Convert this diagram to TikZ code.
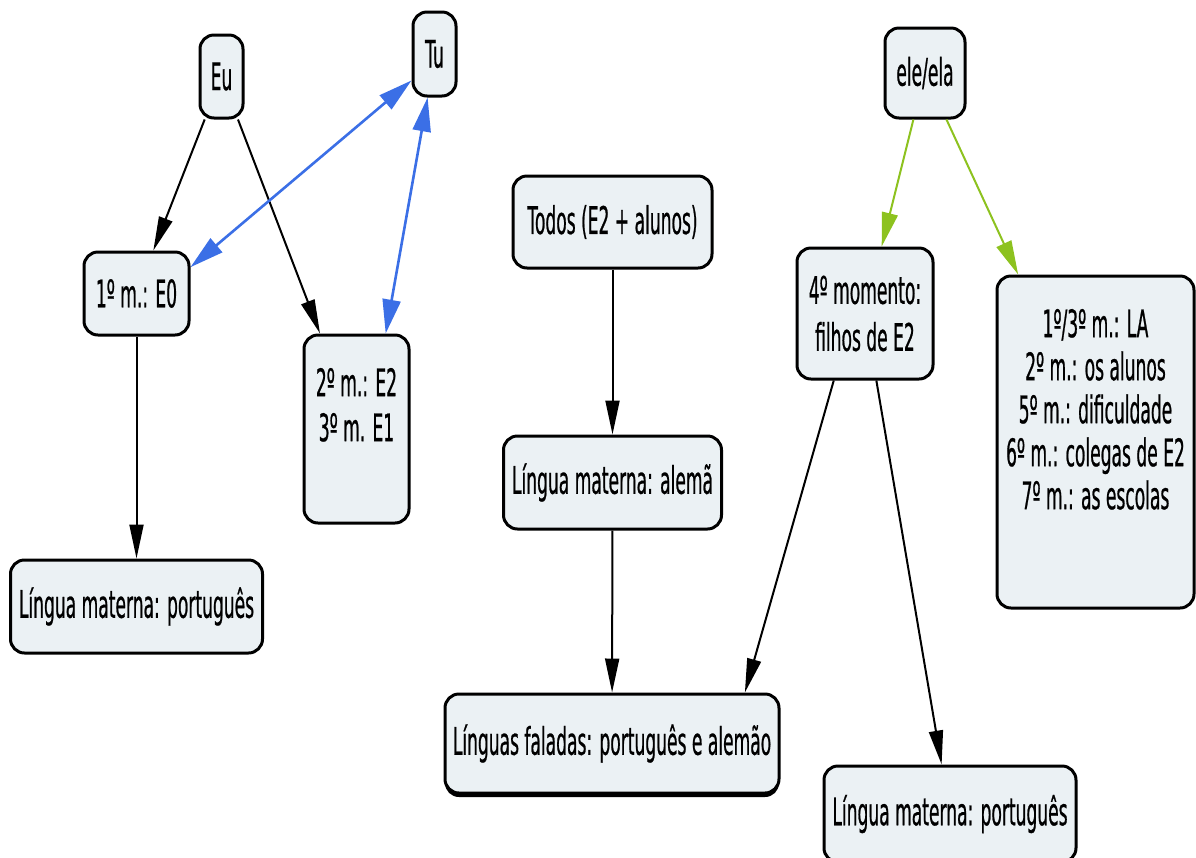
\documentclass[tikz,border=0pt]{standalone}
\usepackage{fontspec}
\setmainfont{DejaVu Sans}[FakeStretch=0.45,FakeBold=0.6]
\usetikzlibrary{arrows.meta,shadows}
\definecolor{boxfill}{HTML}{EBF1F4}
\definecolor{linkblue}{HTML}{3B6FE6}
\definecolor{linkgreen}{HTML}{8DC21F}
% text pushed to the top of a tall box
\newcommand{\toptext}[3]{\parbox[c][#1][t]{#2}{\centering\vspace*{16.5pt}#3\par}}

\begin{document}
\begin{tikzpicture}[x=0.5pt,y=-0.5pt,
	concept/.style={draw,line width=1.5pt,rounded corners=7pt,fill=boxfill,inner sep=0pt,
		font=\fontsize{19}{21.5}\selectfont,align=center},
	link/.style={line width=1pt,-{Triangle[length=17pt,width=7pt]}},
	bluelink/.style={color=linkblue,line width=1.3pt,{Triangle[length=17pt,width=9pt]}-{Triangle[length=17pt,width=9pt]}},
	greenlink/.style={color=linkgreen,line width=1pt,-{Triangle[length=17pt,width=8pt]}}]
		\useasboundingbox (0,0) rectangle (1196,858);
		\clip (0,0) rectangle (1196,858);

		\node[concept,minimum width=21.5pt,minimum height=41.5pt] (eu) at (221.5,76.5) {Eu};
		\node[concept,minimum width=21.5pt,minimum height=42pt] (tu) at (434.5,54) {Tu};
		\node[concept,minimum width=52.5pt,minimum height=41.5pt] (p1) at (136.5,293.5) {1º m.: E0};
		\node[concept,minimum width=52.5pt,minimum height=94pt] (p2) at (356.5,429)
			{\toptext{94pt}{52pt}{2º m.: E2\\[1pt]3º m. E1}};
		\node[concept,minimum width=126pt,minimum height=46.5pt] (lmp1) at (136.5,606.5) {Língua materna: português};
		
		\node[concept,minimum width=99.5pt,minimum height=46pt] (todos) at (612.5,222) {Todos (E2 + alunos)};
		\node[concept,minimum width=109pt,minimum height=46.5pt] (alema) at (612.5,482.5) {Língua materna: alemã};
		\node[concept,minimum width=167pt,minimum height=49.5pt,
			drop shadow={shadow xshift=0pt,shadow yshift=-2pt,opacity=1,fill=black}] (faladas) at (612,743.5)
			{Línguas faladas: português e alemão};
		
		\node[concept,minimum width=40pt,minimum height=45pt] (ele) at (925,73) {ele/ela};
		\node[concept,minimum width=68pt,minimum height=65.5pt] (m4) at (865,313.5) {4º momento:\\[2pt]filhos de E2};
		\node[concept,minimum width=98.5pt,minimum height=166pt] (mr) at (1095.5,442)
			{\toptext{166pt}{98pt}{1º/3º m.: LA\\2º m.: os alunos\\5º m.: dificuldade\\6º m.: colegas de E2\\7º m.: as escolas}};
		\node[concept,minimum width=126pt,minimum height=48pt] (lmp2) at (950,814) {Língua materna: português};

		\draw[link] (eu)--(p1);
		\draw[link] (eu)--(p2);
		\draw[bluelink] (tu.229)--(p1.26);
		\draw[bluelink] (tu.261)--(p2.73);
		\draw[link] (p1)--(lmp1);
		
		\draw[link] (todos)--(alema);
		\draw[link] (alema)--(faladas);
		
		\draw[greenlink] (ele)--(m4);
		\draw[greenlink] (ele)--(mr);
		\draw[link] (m4.245)--(faladas.21);
		\draw[link] (m4)--(lmp2);
\end{tikzpicture}
\end{document}
